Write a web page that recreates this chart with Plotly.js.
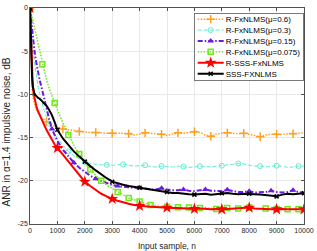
<!DOCTYPE html>
<html>
<head>
<meta charset="utf-8">
<script src="https://cdn.plot.ly/plotly-3.0.1.min.js"></script>
<style>
html,body{margin:0;padding:0;background:#fff;}
#plot{width:317px;height:251px;}
</style>
</head>
<body>
<div id="plot"></div>
<script>
// ---------- data ----------
var sampleN = [0,25,50,75,100,150,200,250,300,350,400,450,500,600,700,800,900,1000,
  1200,1400,1600,1800,2000,2200,2400,2600,2800,3000,3200,3400,3600,3800,4000,4200,4400,4600,4800,
  5000,5200,5400,5600,5800,6000,6200,6400,6600,6800,7000,7200,7400,7600,7800,8000,8200,8400,8600,
  8800,9000,9200,9400,9600,9800,10000];

var seriesNames = ['R-FxNLMS(\u03bc=0.6)','R-FxNLMS(\u03bc=0.3)','R-FxNLMS(\u03bc=0.15)',
  'R-FxNLMS(\u03bc=0.075)','R-SSS-FxNLMS','SSS-FXNLMS'];

var anrMu06 = [0,-4.5,-7.5,-9.2,-10.2,-11.0,-11.5,-11.9,-12.2,-12.4,-12.6,-12.75,-12.9,-13.2,-13.4,-13.6,-13.7,-13.8,
  -14.0,-14.1,-14.2,-14.3,-14.35,-14.4,-14.4,-14.45,-14.5,-14.5,-14.45,-14.5,-14.55,-14.7,-14.6,-14.45,-14.5,-14.55,-14.6,
  -14.75,-14.6,-14.45,-14.5,-14.4,-14.32,-14.4,-14.7,-14.85,-14.6,-14.5,-14.45,-14.5,-14.55,-14.5,-14.6,-14.75,-14.9,-14.7,
  -14.6,-14.6,-14.65,-14.55,-14.55,-14.5,-14.45];

var anrMu03 = [0,-1.5,-2.8,-3.8,-4.6,-6.0,-7.3,-8.3,-9.2,-9.9,-10.6,-11.2,-11.7,-12.6,-13.4,-14.0,-14.6,-15.1,
  -15.9,-16.6,-17.1,-17.5,-17.8,-18.0,-18.1,-18.15,-18.15,-18.2,-18.15,-18.1,-18.2,-18.3,-18.25,-18.2,-18.35,-18.4,-18.3,
  -18.35,-18.4,-18.3,-18.35,-18.45,-18.4,-18.3,-18.35,-18.4,-18.3,-18.25,-18.2,-18.1,-18.0,-18.05,-18.2,-18.3,-18.3,-18.4,
  -18.35,-18.25,-18.3,-18.45,-18.4,-18.3,-18.3];

var anrMu015 = [0,-0.9,-1.7,-2.5,-3.2,-4.6,-5.8,-6.8,-7.6,-8.3,-8.9,-9.6,-10.2,-11.6,-12.9,-14.0,-14.8,-15.4,
  -16.4,-17.2,-17.9,-18.5,-19.0,-19.4,-19.75,-20.0,-20.3,-20.5,-20.6,-20.7,-20.75,-20.8,-20.8,-20.9,-21.0,-21.0,-20.85,
  -21.0,-21.1,-21.1,-21.0,-21.15,-21.2,-21.1,-21.0,-21.15,-21.2,-21.2,-21.05,-21.2,-21.3,-21.3,-21.2,-21.35,-21.3,-21.3,
  -21.15,-21.3,-21.35,-21.3,-21.1,-21.3,-21.35];

var anrMu0075 = [0,-0.35,-0.7,-1.1,-1.5,-2.2,-2.9,-3.6,-4.4,-5.1,-5.8,-6.5,-7.1,-8.3,-9.3,-10.2,-11.0,-11.8,
  -13.3,-14.7,-15.9,-16.9,-17.9,-18.7,-19.4,-20.0,-20.5,-20.9,-21.3,-21.7,-22.0,-22.2,-22.4,-22.6,-22.8,-22.9,-23.0,
  -23.0,-23.1,-23.05,-23.15,-23.1,-23.2,-23.15,-23.1,-23.2,-23.25,-23.2,-23.15,-23.25,-23.2,-23.15,-23.1,-23.2,-23.25,-23.2,
  -23.3,-23.25,-23.2,-23.3,-23.25,-23.3,-23.3];

var anrRSSS = [0,-3.0,-5.5,-7.5,-9.0,-10.2,-11.0,-11.6,-12.0,-12.4,-12.7,-13.0,-13.4,-14.1,-14.7,-15.3,-15.8,-16.2,
  -17.0,-17.8,-18.6,-19.4,-20.1,-20.6,-21.1,-21.5,-21.8,-22.1,-22.3,-22.5,-22.65,-22.8,-22.9,-22.95,-23.0,-23.05,-23.1,
  -23.1,-23.15,-23.15,-23.2,-23.2,-23.25,-23.2,-23.25,-23.3,-23.25,-23.3,-23.25,-23.2,-23.2,-23.15,-23.1,-23.2,-23.25,-23.3,
  -23.3,-23.3,-23.25,-23.3,-23.3,-23.3,-23.3];

var anrSSS = [0,-4.0,-6.5,-8.0,-9.0,-9.8,-10.1,-10.3,-10.4,-10.5,-10.6,-10.8,-11.0,-11.3,-11.8,-12.4,-13.2,-14.1,
  -15.1,-15.9,-16.6,-17.2,-17.8,-18.3,-18.8,-19.3,-19.7,-20.1,-20.3,-20.45,-20.6,-20.7,-20.8,-20.9,-21.0,-21.1,-21.2,
  -21.3,-21.4,-21.4,-21.5,-21.55,-21.6,-21.55,-21.5,-21.6,-21.55,-21.45,-21.4,-21.5,-21.55,-21.5,-21.5,-21.55,-21.6,-21.65,
  -21.7,-21.8,-21.6,-21.5,-21.55,-21.5,-21.45];

// marker spacing of each curve, in input samples
var markerEvery = [600, 700, 800, 450, 1000, 1000];

var xTickVals = [0,1000,2000,3000,4000,5000,6000,7000,8000,9000,10000];
var xTickText = ['0','1000','2000','3000','4000','5000','6000','7000','8000','9000','10000'];
var yTickVals = [-25,-20,-15,-10,-5,0];
var yTickText = ['-25','-20','-15','-10','-5','0'];

// ---------- styles ----------
var allY = [anrMu06, anrMu03, anrMu015, anrMu0075, anrRSSS, anrSSS];
var styles = [
  {color:'#FF9F1F', width:1.5, dash:'1.5px,1.5px', symbol:'cross-thin-open', size:6, mlw:1.5},
  {color:'#62EBD2', width:1,   dash:'4px,2px',     symbol:'circle-open',     size:5, mlw:1},
  {color:'#6A1CE0', width:2,   dash:'5px,2px,1.5px,2px', symbol:'triangle-up', size:6, mlw:0},
  {color:'#70E81A', width:1.5, dash:'1.5px,1.5px', symbol:'square-open',     size:5, mlw:1.5},
  {color:'#FF0000', width:2,   dash:'solid',       symbol:'star',            size:9, mlw:0},
  {color:'#000000', width:2,   dash:'solid',       symbol:'x-thin-open',     size:4, mlw:1.5}
];

function markerIndices(step) {
  var idx = [];
  for (var t = 0; t <= sampleN[sampleN.length-1]; t += step) {
    var best = 0;
    for (var i = 1; i < sampleN.length; i++) {
      if (Math.abs(sampleN[i]-t) < Math.abs(sampleN[best]-t)) best = i;
    }
    idx.push(best);
  }
  return idx;
}

var lineTraces = [], markTraces = [], legendTraces = [];
allY.forEach(function(ys, k) {
  var s = styles[k];
  lineTraces.push({
    type:'scatter', mode:'lines', x:sampleN, y:ys, showlegend:false, hoverinfo:'skip',
    line:{color:s.color, width:s.width, dash:s.dash}
  });
  var idx = markerIndices(markerEvery[k]);
  markTraces.push({
    type:'scatter', mode:'markers', showlegend:false, hoverinfo:'skip',
    x: idx.map(function(i){return sampleN[i];}),
    y: idx.map(function(i){return ys[i];}),
    marker:{symbol:s.symbol, size:s.size, color:s.color, line:{color:s.color, width:s.mlw}}
  });
  legendTraces.push({
    type:'scatter', mode:'lines+markers', x:[null], y:[null], name:seriesNames[k], showlegend:true,
    line:{color:s.color, width:s.width, dash:s.dash},
    marker:{symbol:s.symbol, size:s.size, color:s.color, line:{color:s.color, width:s.mlw}}
  });
});

var traces = [];
for (var k = 0; k < allY.length; k++) { traces.push(lineTraces[k]); traces.push(markTraces[k]); }
traces = traces.concat(legendTraces);

var FONT = 'Liberation Sans, Arial, sans-serif';
var TXT = '#262626';
var layout = {
  width:317, height:251,
  margin:{l:30, r:13, t:8, b:27, pad:0},
  paper_bgcolor:'#ffffff', plot_bgcolor:'#ffffff',
  font:{family:FONT, color:TXT, size:7},
  showlegend:true,
  xaxis:{
    range:[0,10000], tickvals:xTickVals, ticktext:xTickText,
    ticks:'inside', ticklen:3, tickwidth:0.8, tickcolor:TXT,
    showline:true, linecolor:TXT, linewidth:0.8, mirror:'ticks',
    showgrid:true, gridcolor:'#e4e4e4', gridwidth:0.8, zeroline:false,
    tickfont:{family:FONT, size:7, color:TXT},
    title:{text:'Input sample, n', font:{family:FONT, size:8.5, color:TXT}, standoff:9},
    automargin:false
  },
  yaxis:{
    range:[-25,0], tickvals:yTickVals, ticktext:yTickText,
    ticks:'inside', ticklen:3, tickwidth:0.8, tickcolor:TXT,
    showline:true, linecolor:TXT, linewidth:0.8, mirror:'ticks',
    showgrid:true, gridcolor:'#e4e4e4', gridwidth:0.8, zeroline:false,
    tickfont:{family:FONT, size:7, color:TXT},
    title:{text:'ANR in \u03b1=1.4 impulsive noise, dB', font:{family:FONT, size:10, color:TXT}, standoff:4},
    automargin:false
  },
  legend:{
    x:1, xanchor:'right', y:0.977, yanchor:'top',
    bgcolor:'#ffffff', bordercolor:'#404040', borderwidth:0.7,
    font:{family:FONT, size:8, color:'#000'},
    itemwidth:30, tracegroupgap:0
  }
};

Plotly.newPlot('plot', traces, layout, {staticPlot:true, displayModeBar:false}).then(function(gd){
  // compact the legend to match the reference's proportions
  var ROWH = 10.9, ROW0 = 6.2, LINE0 = 3, LINELEN = 26, TEXTX = 31, PADR = 4;
  var items = gd.querySelectorAll('.legend .traces');
  var maxW = 0;
  items.forEach(function(el, i){
    var t = el.getAttribute('transform') || '';
    var m = /translate\(\s*([-\d.e]+)[ ,]+([-\d.e]+)\s*\)/.exec(t);
    var x0 = m ? parseFloat(m[1]) : 0;
    el.setAttribute('transform', 'translate(' + x0 + ',' + (ROW0 + i*ROWH) + ')');
    el.querySelectorAll('.legendlines path').forEach(function(p){
      p.setAttribute('d', 'M' + LINE0 + ',0h' + LINELEN);
    });
    el.querySelectorAll('.legendpoints path').forEach(function(p){
      p.setAttribute('transform', 'translate(' + (LINE0 + LINELEN/2) + ',0)');
    });
    var tx = el.querySelector('.legendtext');
    if (tx) {
      tx.setAttribute('x', TEXTX);
      tx.querySelectorAll('tspan').forEach(function(ts){ if (ts.getAttribute('x') !== null) ts.setAttribute('x', TEXTX); });
      maxW = Math.max(maxW, tx.getBBox().width);
    }
  });
  var W = TEXTX + maxW + PADR;
  var H = ROW0*2 + (items.length-1)*ROWH;
  var bg = gd.querySelector('.legend rect.bg');
  if (bg) { bg.setAttribute('height', H.toFixed(1)); bg.setAttribute('width', W.toFixed(1)); }
  var lg = gd.querySelector('g.legend');
  if (lg) {
    var t = lg.getAttribute('transform') || '';
    var m = /translate\(\s*([-\d.e]+)[ ,]+([-\d.e]+)\s*\)/.exec(t);
    var ly = m ? parseFloat(m[2]) : 13;
    var rightEdge = gd._fullLayout._size.l + gd._fullLayout._size.w;
    lg.setAttribute('transform', 'translate(' + (rightEdge - W - 0.5).toFixed(1) + ',' + ly + ')');
  }
  var yt = gd.querySelector('.g-ytitle');
  if (yt) yt.setAttribute('transform', 'translate(-1,16)');
});
</script>
</body>
</html>
